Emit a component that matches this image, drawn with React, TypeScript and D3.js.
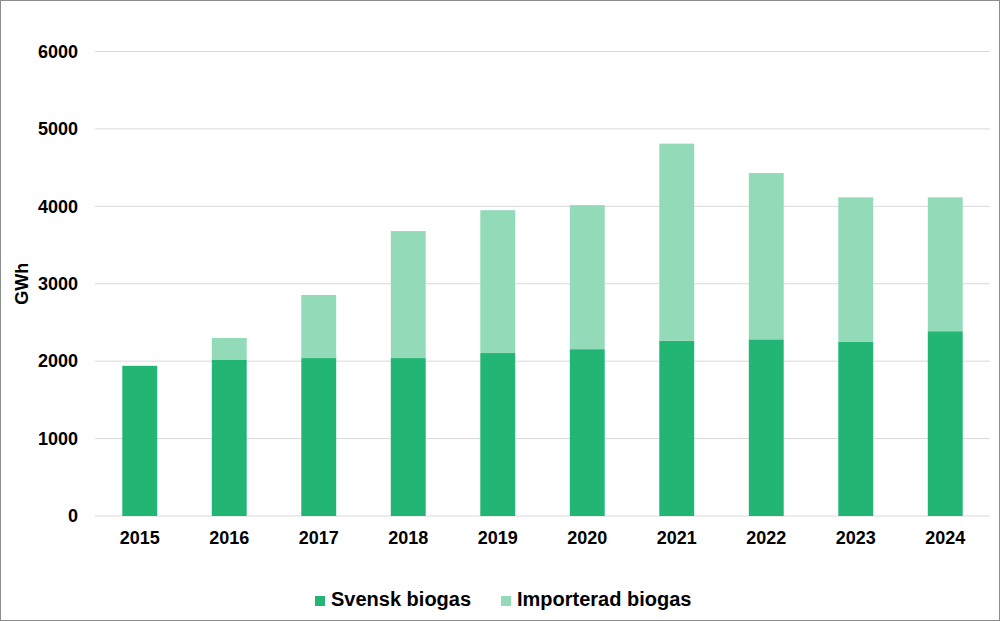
import { useEffect, useRef } from "react";
import * as d3 from "d3";

const years = ["2015", "2016", "2017", "2018", "2019", "2020", "2021", "2022", "2023", "2024"];
const svensk = [1940, 2015, 2040, 2040, 2105, 2155, 2262, 2282, 2249, 2387];
const importerad = [0, 285, 815, 1640, 1845, 1860, 2548, 2148, 1867, 1729];
const yTicks = [0, 1000, 2000, 3000, 4000, 5000, 6000];
const seriesNames = ["Svensk biogas", "Importerad biogas"];
const colors = ["#23b574", "#93dab9"];

export default function App() {
  const svgRef = useRef<SVGSVGElement>(null);

  useEffect(() => {
    if (!svgRef.current) return;
    const W = 1000, H = 621;
    const margin = { top: 51.5, right: 10, bottom: 105, left: 95 };
    const width = W - margin.left - margin.right;
    const height = H - margin.top - margin.bottom;

    const svg = d3.select(svgRef.current);
    svg.selectAll("*").remove();

    svg.append("rect")
      .attr("x", 0.5).attr("y", 0.5)
      .attr("width", W - 1).attr("height", H - 1)
      .attr("fill", "#fff")
      .attr("stroke", "#8c8c8c");

    const g = svg.append("g")
      .attr("transform", `translate(${margin.left},${margin.top})`);

    const x = d3.scaleBand().domain(years).range([0, width]).paddingInner(0.61).paddingOuter(0.305);
    const y = d3.scaleLinear().domain([0, 6000]).range([height, 0]);

    // grid
    g.selectAll("line.grid")
      .data(yTicks)
      .enter()
      .append("line")
      .attr("x1", 0).attr("x2", width)
      .attr("y1", d => y(d)).attr("y2", d => y(d))
      .attr("stroke", "#d9d9d9")
      .attr("stroke-width", 1);

    const rows = years.map((yr, i) => ({ year: yr, s: svensk[i], imp: importerad[i] }));
    const stack = d3.stack<{ year: string; s: number; imp: number }>().keys(["s", "imp"]);
    const layers = stack(rows);

    g.selectAll("g.layer")
      .data(layers)
      .enter()
      .append("g")
      .attr("fill", (_, i) => colors[i])
      .selectAll("rect")
      .data(d => d)
      .enter()
      .append("rect")
      .attr("x", d => x(d.data.year)!)
      .attr("width", x.bandwidth())
      .attr("y", d => y(d[1]))
      .attr("height", d => y(d[0]) - y(d[1]));

    // y tick labels
    g.selectAll("text.ytick")
      .data(yTicks)
      .enter()
      .append("text")
      .attr("x", -17)
      .attr("y", d => y(d))
      .attr("dy", "0.35em")
      .attr("text-anchor", "end")
      .attr("font-family", "Liberation Sans, Arial, sans-serif")
      .attr("font-weight", "bold")
      .attr("font-size", 18)
      .attr("fill", "#000")
      .text(d => d);

    // x tick labels
    g.selectAll("text.xtick")
      .data(years)
      .enter()
      .append("text")
      .attr("x", d => x(d)! + x.bandwidth() / 2)
      .attr("y", height + 28)
      .attr("text-anchor", "middle")
      .attr("font-family", "Liberation Sans, Arial, sans-serif")
      .attr("font-weight", "bold")
      .attr("font-size", 18)
      .attr("fill", "#000")
      .text(d => d);

    svg.append("text")
      .attr("transform", `translate(28,${margin.top + y(3000)}) rotate(-90)`)
      .attr("text-anchor", "middle")
      .attr("font-family", "Liberation Sans, Arial, sans-serif")
      .attr("font-weight", "bold")
      .attr("font-size", 18)
      .attr("fill", "#000")
      .text("GWh");

    // legend
    const legendX = [315, 501];
    const leg = svg.selectAll("g.legend")
      .data(seriesNames)
      .enter()
      .append("g")
      .attr("transform", (_, i) => `translate(${legendX[i]},596)`);
    leg.append("rect")
      .attr("width", 10).attr("height", 10)
      .attr("fill", (_, i) => colors[i]);
    leg.append("text")
      .attr("x", 16)
      .attr("y", 10)
      .attr("font-family", "Liberation Sans, Arial, sans-serif")
      .attr("font-weight", "bold")
      .attr("font-size", 20)
      .attr("fill", "#000")
      .text(d => d);
  }, []);

  return (
    <svg ref={svgRef} width={1000} height={621} style={{ position: "absolute", left: 0, top: 0 }}></svg>
  );
}
